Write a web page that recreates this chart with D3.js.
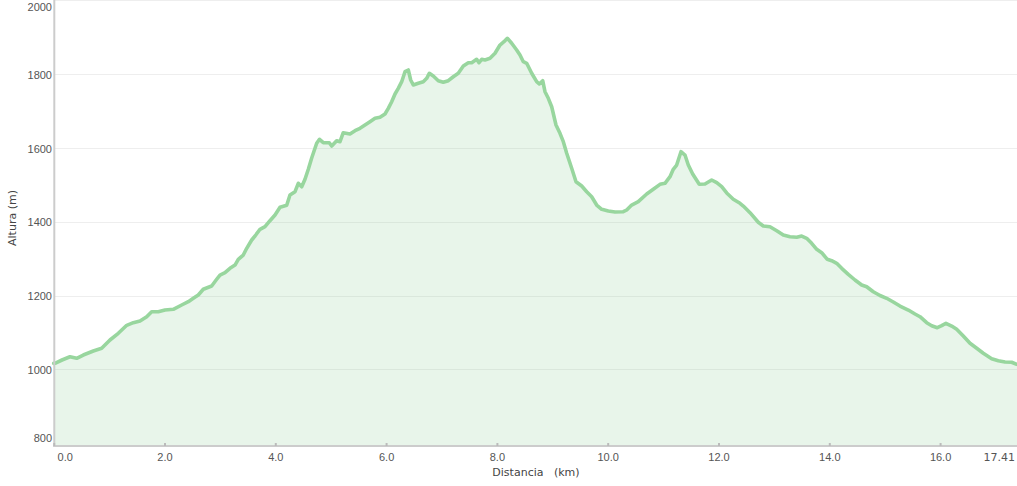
<!DOCTYPE html>
<html><head><meta charset="utf-8">
<script src="https://cdn.jsdelivr.net/npm/d3@7/dist/d3.min.js"></script>
<style>html,body{margin:0;padding:0;background:#fff;}svg{display:block;font-family:"DejaVu Sans",Verdana,sans-serif;}</style>
</head><body><svg id="c" width="1017" height="486"></svg>
<script>
const distKm = [0,0.023,0.150,0.294,0.415,0.534,0.715,0.866,1.016,1.166,1.318,1.437,1.558,1.679,1.769,1.888,2.009,2.159,2.310,2.430,2.520,2.610,2.700,2.852,2.942,3.002,3.092,3.182,3.273,3.332,3.422,3.484,3.574,3.634,3.724,3.814,3.904,3.995,4.085,4.206,4.265,4.356,4.415,4.477,4.536,4.596,4.657,4.747,4.798,4.866,4.975,5.018,5.108,5.168,5.227,5.348,5.439,5.529,5.619,5.709,5.800,5.890,5.980,6.040,6.101,6.161,6.220,6.282,6.341,6.401,6.444,6.491,6.581,6.671,6.733,6.780,6.852,6.942,7.032,7.123,7.213,7.303,7.394,7.484,7.545,7.635,7.677,7.726,7.785,7.876,7.966,8.056,8.128,8.188,8.267,8.357,8.417,8.477,8.538,8.628,8.718,8.765,8.827,8.868,8.928,8.989,9.067,9.139,9.199,9.260,9.350,9.428,9.531,9.621,9.711,9.801,9.892,10.011,10.132,10.282,10.343,10.433,10.552,10.704,10.823,10.944,11.034,11.125,11.184,11.245,11.323,11.395,11.455,11.534,11.653,11.756,11.877,11.968,12.058,12.148,12.267,12.388,12.448,12.569,12.718,12.809,12.929,13.051,13.170,13.291,13.412,13.502,13.592,13.682,13.773,13.863,13.964,14.043,14.134,14.224,14.343,14.464,14.585,14.675,14.794,14.915,15.036,15.155,15.276,15.426,15.547,15.637,15.758,15.848,15.949,16.029,16.106,16.209,16.300,16.419,16.540,16.661,16.780,16.931,17.051,17.172,17.292,17.383,17.41];
const altura = [1016,1016.3,1025.2,1034.1,1029.8,1038.7,1049.6,1056.9,1079.4,1097.6,1119.2,1126.3,1130.9,1142.5,1156.1,1156.1,1160.7,1162.6,1174.2,1183.2,1192.4,1201.3,1216.8,1225.7,1243.9,1255.5,1261.8,1273.7,1282.6,1298.1,1309.7,1327.9,1350.4,1361.2,1379.4,1386.4,1402.7,1418.1,1439.0,1444.4,1472.3,1481.3,1504.1,1494.8,1514.9,1542.0,1572.6,1612.5,1623.3,1614.1,1614.1,1605.1,1619.5,1616.8,1641.2,1637.7,1646.6,1653.1,1662.0,1671.0,1680.2,1682.9,1691.9,1707.3,1725.2,1746.1,1761.5,1779.4,1806.5,1811.1,1784.0,1770.4,1775.1,1779.4,1788.6,1802.2,1794.8,1782.1,1777.8,1782.1,1792.9,1802.2,1821.9,1830.9,1830.9,1840.1,1830.9,1840.1,1838.2,1842.8,1856.4,1878.8,1887.8,1897.0,1883.5,1865.3,1851.7,1833.6,1829.3,1802.2,1779.4,1773.2,1782.1,1752.3,1734.4,1711.6,1662.0,1639.6,1616.8,1585.4,1544.7,1508.4,1496.7,1481.3,1467.7,1445.2,1433.6,1429.0,1426.3,1427.1,1431.7,1445.2,1454.2,1475.1,1487.8,1501.3,1504.1,1521.9,1542.0,1553.6,1589.7,1580.7,1553.6,1529.3,1501.3,1502.2,1513.0,1505.7,1494.8,1477.8,1460.7,1449.9,1442.5,1424.4,1398.4,1388.3,1386.4,1375.6,1363.9,1359.3,1357.7,1361.2,1355.0,1341.5,1325.2,1316.0,1298.1,1294.3,1287.3,1273.7,1257.4,1242.0,1228.4,1223.8,1210.3,1200.0,1192.4,1182.4,1171.5,1160.7,1149.9,1142.5,1126.3,1118.2,1112.7,1118.2,1124.7,1117.3,1108.4,1090.2,1070.5,1056.9,1043.4,1028.7,1023.3,1019.8,1019.0,1013.5,1013];
const xTicks = [0,2,4,6,8,10,12,14,16];
const xEnd = 17.41;
const yTicks = [800,1000,1200,1400,1600,1800,2000];
const xTitle = "Distancia   (km)";
const yTitle = "Altura (m)";

const svg = d3.select("#c");
const x = d3.scaleLinear().domain([0, xEnd]).range([53.7, 1018.2]);
const y = d3.scaleLinear().domain([800, 2000]).range([443.1, 0.3]);
const data = distKm.map((d,i)=>({d, h: altura[i]}));
const bottom = 445;

// gridlines
svg.append("g").selectAll("line").data(yTicks.filter(t=>t>800)).join("line")
  .attr("x1", 55).attr("x2", 1017).attr("y1", d=>Math.round(y(d))+0.5).attr("y2", d=>Math.round(y(d))+0.5)
  .attr("stroke", "#eeeeee").attr("stroke-width", 1);

// area
svg.append("path").datum(data)
  .attr("d", d3.area().x(p=>x(p.d)).y0(bottom).y1(p=>y(p.h)))
  .attr("fill", "rgb(140,205,150)").attr("fill-opacity", 0.2);

// line
svg.append("path").datum(data)
  .attr("d", d3.line().x(p=>x(p.d)).y(p=>y(p.h)))
  .attr("fill", "none").attr("stroke", "rgb(152,214,158)").attr("stroke-width", 3.6)
  .attr("stroke-linejoin", "round").attr("stroke-linecap", "round");

// axes lines
svg.append("line").attr("x1", 54.3).attr("x2", 54.3).attr("y1", 0).attr("y2", 447)
  .attr("stroke", "#cccccc").attr("stroke-width", 2);
svg.append("line").attr("x1", 53.3).attr("x2", 1017).attr("y1", 446).attr("y2", 446)
  .attr("stroke", "#cccccc").attr("stroke-width", 2);

// x axis ticks and labels
const xa = svg.append("g").attr("transform", "translate(0,446)")
  .call(d3.axisBottom(x).tickValues(xTicks).tickSize(0).tickFormat(d3.format(".1f")));
xa.select(".domain").remove();
xa.selectAll("text").attr("fill", "#555").attr("font-size", 11).attr("dy", "0.71em").attr("y", 7);
xa.selectAll(".tick").filter(d=>d===0).select("text").attr("x", 11);
xa.selectAll(".tick").append("line").attr("y1", -3).attr("y2", 0).attr("stroke", "#bbbbbb").attr("stroke-width", 2);
xa.selectAll(".tick").filter(d=>d===0).select("line").remove();
svg.append("text").attr("x", 1015).attr("y", 461).attr("text-anchor", "end").attr("fill", "#555").attr("font-size", 11)
  .attr("font-family", "DejaVu Sans, Verdana, sans-serif").text(String(xEnd));

// y axis labels
const ya = svg.append("g").attr("transform", "translate(52,0)")
  .call(d3.axisLeft(y).tickValues(yTicks).tickSize(0).tickPadding(0).tickFormat(d3.format("d")));
ya.select(".domain").remove();
ya.selectAll(".tick").attr("transform", d=>`translate(0,${Math.min(438.5, Math.max(7.5, y(d)+0.8))})`);
ya.selectAll("text").attr("fill", "#555").attr("font-size", 11).attr("dy", "0.36em");

// titles
svg.append("text").attr("x", 536).attr("y", 476).attr("text-anchor", "middle").attr("fill", "#444")
  .attr("font-size", 11).style("white-space", "pre").text(xTitle);
svg.append("text").attr("transform", "translate(16,218) rotate(-90)").attr("text-anchor", "middle")
  .attr("fill", "#444").attr("font-size", 11).text(yTitle);
</script></body></html>
